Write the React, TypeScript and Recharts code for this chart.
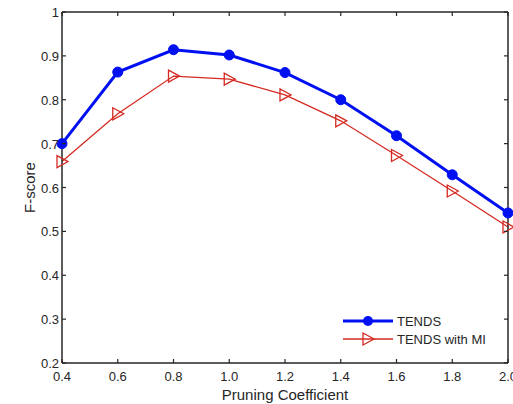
import React from "react";
import { LineChart, Line, XAxis, YAxis } from "recharts";

const coefficients = [0.4, 0.6, 0.8, 1.0, 1.2, 1.4, 1.6, 1.8, 2.0];
const tendsScores = [0.7, 0.863, 0.914, 0.902, 0.862, 0.8, 0.718, 0.629, 0.542];
const tendsMiScores = [0.659, 0.768, 0.854, 0.847, 0.811, 0.752, 0.673, 0.592, 0.51];
const scoreTicks = [0.2, 0.3, 0.4, 0.5, 0.6, 0.7, 0.8, 0.9, 1];

const rows = coefficients.map((coef, i) => ({
  coef,
  tends: tendsScores[i],
  tendsMi: tendsMiScores[i],
}));

const AXIS = "#262626";
const BLUE = "#0010f0";
const RED = "#d42a22";
const FONT = "'Liberation Sans', Arial, sans-serif";
const TICK_LEN = 4;

const BottomTick = (props: any) => {
  const { x, y, payload } = props;
  return (
    <g>
      <line x1={x} x2={x} y1={y} y2={y - TICK_LEN} stroke={AXIS} strokeWidth={1.2} />
      <text x={x} y={y + 18} textAnchor="middle" fontSize={13} fill={AXIS} fontFamily={FONT}>
        {Number(payload.value).toFixed(1)}
      </text>
    </g>
  );
};

const TopTick = (props: any) => {
  const { x, y } = props;
  return <line x1={x} x2={x} y1={y} y2={y + TICK_LEN} stroke={AXIS} strokeWidth={1.2} />;
};

const LeftTick = (props: any) => {
  const { x, y, payload } = props;
  return (
    <g>
      <line x1={x} x2={x + TICK_LEN} y1={y} y2={y} stroke={AXIS} strokeWidth={1.2} />
      <text x={x - 3} y={y + 5} textAnchor="end" fontSize={13} fill={AXIS} fontFamily={FONT}>
        {String(payload.value)}
      </text>
    </g>
  );
};

const RightTick = (props: any) => {
  const { x, y } = props;
  return <line x1={x} x2={x - TICK_LEN} y1={y} y2={y} stroke={AXIS} strokeWidth={1.2} />;
};

const Triangle = ({ cx, cy }: { cx: number; cy: number }) => (
  <polygon
    points={`${cx - 5},${cy - 6} ${cx - 5},${cy + 6} ${cx + 6},${cy}`}
    fill="none"
    stroke={RED}
    strokeWidth={1.3}
  />
);

const RedDot = (props: any) => {
  const { cx, cy, index } = props;
  if (cx == null || cy == null) return <g key={index} />;
  return <Triangle key={index} cx={cx} cy={cy} />;
};

const YLabel = (props: any) => {
  const { viewBox } = props;
  const cx = viewBox.x + 29;
  const cy = viewBox.y + viewBox.height / 2;
  return (
    <text
      x={cx}
      y={cy}
      transform={`rotate(-90 ${cx} ${cy})`}
      textAnchor="middle"
      dominantBaseline="central"
      fontSize={15}
      fill={AXIS}
      fontFamily={FONT}
    >
      F-score
    </text>
  );
};

const ChartLegend = () => (
  <svg width={170} height={40} style={{ position: "absolute", left: 340, top: 310 }}>
    <line x1={3} x2={53} y1={11} y2={11} stroke={BLUE} strokeWidth={3} />
    <circle cx={28} cy={11} r={5} fill={BLUE} />
    <text x={57} y={16} fontSize={13} fill={AXIS} fontFamily={FONT}>
      TENDS
    </text>
    <line x1={3} x2={53} y1={29} y2={29} stroke={RED} strokeWidth={1.3} />
    <Triangle cx={28} cy={29} />
    <text x={57} y={34} fontSize={13} fill={AXIS} fontFamily={FONT}>
      TENDS with MI
    </text>
  </svg>
);

export default function App() {
  return (
    <div style={{ position: "absolute", left: 0, top: 0, width: 513, height: 404, background: "#fff", fontFamily: FONT }}>
      <LineChart width={513} height={404} data={rows} margin={{ top: 0, right: 0, bottom: 0, left: 0 }}>
        <XAxis
          xAxisId="bottom"
          dataKey="coef"
          type="number"
          domain={[0.4, 2.0]}
          ticks={coefficients}
          orientation="bottom"
          height={41}
          axisLine={{ stroke: AXIS, strokeWidth: 1.5 }}
          tickLine={false}
          tickSize={0}
          tickMargin={0}
          tick={<BottomTick />}
          interval={0}
          label={{ value: "Pruning Coefficient", position: "insideBottom", offset: 4, fontSize: 15, fill: AXIS, fontFamily: FONT }}
        />
        <XAxis
          xAxisId="top"
          dataKey="coef"
          type="number"
          domain={[0.4, 2.0]}
          ticks={coefficients}
          orientation="top"
          height={12}
          axisLine={{ stroke: AXIS, strokeWidth: 1.5 }}
          tickLine={false}
          tickSize={0}
          tickMargin={0}
          tick={<TopTick />}
          interval={0}
        />
        <YAxis
          yAxisId="left"
          type="number"
          domain={[0.2, 1]}
          ticks={scoreTicks}
          width={62}
          axisLine={{ stroke: AXIS, strokeWidth: 1.5 }}
          tickLine={false}
          tickSize={0}
          tickMargin={0}
          tick={<LeftTick />}
          interval={0}
          label={<YLabel />}
        />
        <YAxis
          yAxisId="right"
          orientation="right"
          type="number"
          domain={[0.2, 1]}
          ticks={scoreTicks}
          width={5}
          axisLine={{ stroke: AXIS, strokeWidth: 1.5 }}
          tickLine={false}
          tickSize={0}
          tickMargin={0}
          tick={<RightTick />}
          interval={0}
        />
        <Line
          xAxisId="bottom"
          yAxisId="left"
          dataKey="tends"
          stroke={BLUE}
          strokeWidth={3}
          dot={{ r: 5, fill: BLUE, stroke: BLUE, strokeWidth: 1 }}
          isAnimationActive={false}
        />
        <Line
          xAxisId="top"
          yAxisId="right"
          dataKey="tendsMi"
          stroke={RED}
          strokeWidth={1.3}
          dot={<RedDot />}
          isAnimationActive={false}
        />
      </LineChart>
      <ChartLegend />
    </div>
  );
}
